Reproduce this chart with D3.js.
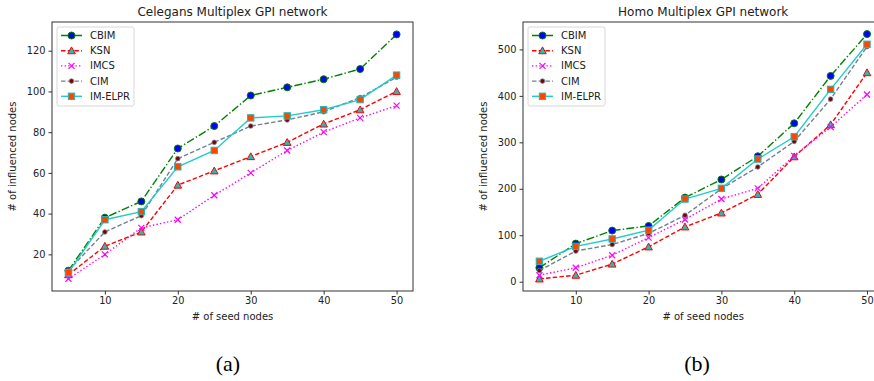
<!DOCTYPE html>
<html><head><meta charset="utf-8">
<script src="https://cdn.jsdelivr.net/npm/d3@7"></script>
<style>
html,body{margin:0;padding:0;background:#fff;}
svg{display:block;font-family:"DejaVu Sans",sans-serif;}
</style></head>
<body><svg id="c" width="874" height="381"></svg>
<script>
// ---- data ----
const seedNodes = [5, 10, 15, 20, 25, 30, 35, 40, 45, 50];
const seriesNames = ["CBIM", "KSN", "IMCS", "CIM", "IM-ELPR"];

const celegansCBIM   = [12, 38, 46, 72, 83, 98, 102, 106, 111, 128];
const celegansKSN    = [10, 24, 31, 54, 61, 68, 75, 84, 91, 100];
const celegansIMCS   = [8, 20, 33, 37, 49, 60, 71, 80, 87, 93];
const celegansCIM    = [12, 31, 39, 67, 75, 83, 86, 90, 97, 107];
const celegansIMELPR = [11, 37, 41, 63, 71, 87, 88, 91, 96, 108];

const homoCBIM   = [30, 82, 110, 120, 181, 220, 270, 341, 443, 533];
const homoKSN    = [6, 14, 38, 75, 118, 148, 188, 269, 338, 450];
const homoIMCS   = [14, 30, 57, 95, 134, 178, 201, 271, 333, 403];
const homoCIM    = [24, 66, 80, 104, 143, 200, 247, 302, 393, 506];
const homoIMELPR = [44, 76, 92, 111, 178, 201, 264, 312, 414, 511];

const celegansYTicks = [20, 40, 60, 80, 100, 120];
const homoYTicks = [0, 100, 200, 300, 400, 500];
const xTicks = [10, 20, 30, 40, 50];

// ---- styles ----
const styles = {
  "CBIM":    {stroke: "#008000", dash: "8,2.2,1.4,2.2", marker: "circle", fill: "#0000ff", edge: "#008000"},
  "KSN":     {stroke: "#ff0000", dash: "4.5,2.2", marker: "triangle", fill: "#2ab8b8", edge: "#ff0000"},
  "IMCS":    {stroke: "#ff00ff", dash: "1.4,2.2", marker: "x", fill: "none", edge: "#ff00ff"},
  "CIM":     {stroke: "#708090", dash: "4.5,2.2", marker: "dot", fill: "#800000", edge: "#708090"},
  "IM-ELPR": {stroke: "#22cccc", dash: null, marker: "square", fill: "#ff4500", edge: "#22b8b8"}
};

const svg = d3.select("#c");

function drawMarker(g, type, x, y, st) {
  if (type === "circle") {
    g.append("circle").attr("cx", x).attr("cy", y).attr("r", 3.5)
      .attr("fill", st.fill).attr("stroke", st.edge).attr("stroke-width", 1);
  } else if (type === "triangle") {
    const s = 3.8;
    g.append("path").attr("d", `M${x},${y - s}L${x + s},${y + s * 0.8}L${x - s},${y + s * 0.8}Z`)
      .attr("fill", st.fill).attr("stroke", st.edge).attr("stroke-width", 1);
  } else if (type === "x") {
    const s = 3;
    g.append("path").attr("d", `M${x - s},${y - s}L${x + s},${y + s}M${x - s},${y + s}L${x + s},${y - s}`)
      .attr("stroke", st.edge).attr("stroke-width", 1.2).attr("fill", "none");
  } else if (type === "dot") {
    g.append("circle").attr("cx", x).attr("cy", y).attr("r", 2.3)
      .attr("fill", st.fill).attr("stroke", st.edge).attr("stroke-width", 0.8);
  } else if (type === "square") {
    const s = 3.2;
    g.append("rect").attr("x", x - s).attr("y", y - s).attr("width", 2 * s).attr("height", 2 * s)
      .attr("fill", st.fill).attr("stroke", st.edge).attr("stroke-width", 1);
  }
}

function chart(opt) {
  const {left, right, top, bottom, yDomain, yTicks, title, series} = opt;
  const x = d3.scaleLinear().domain([2.75, 52.25]).range([left, right]);
  const y = d3.scaleLinear().domain(yDomain).range([bottom, top]);
  const g = svg.append("g");

  g.append("g").attr("transform", `translate(0,${bottom})`)
    .call(d3.axisBottom(x).tickValues(xTicks).tickSize(3.5).tickPadding(3))
    .call(a => a.select(".domain").remove())
    .call(a => a.selectAll("text").attr("font-size", 9.8).attr("fill", "#222").attr("font-family", "DejaVu Sans"))
    .call(a => a.selectAll("line").attr("stroke", "#333"));
  g.append("g").attr("transform", `translate(${left},0)`)
    .call(d3.axisLeft(y).tickValues(yTicks).tickSize(3.5).tickPadding(3))
    .call(a => a.select(".domain").remove())
    .call(a => a.selectAll("text").attr("font-size", 9.8).attr("fill", "#222").attr("font-family", "DejaVu Sans"))
    .call(a => a.selectAll("line").attr("stroke", "#333"));

  const line = d3.line().x((d, i) => x(seedNodes[i])).y(d => y(d));
  series.forEach((vals, si) => {
    const st = styles[seriesNames[si]];
    g.append("path").datum(vals).attr("d", line)
      .attr("fill", "none").attr("stroke", st.stroke).attr("stroke-width", 1.4)
      .attr("stroke-dasharray", st.dash);
    const mg = g.append("g");
    vals.forEach((v, i) => drawMarker(mg, st.marker, x(seedNodes[i]), y(v), st));
  });

  g.append("rect").attr("x", left).attr("y", top).attr("width", right - left).attr("height", bottom - top)
    .attr("fill", "none").attr("stroke", "#333").attr("stroke-width", 1);

  const lx = left + 5, ly = top + 5;
  const lg = g.append("g");
  lg.append("rect").attr("x", lx).attr("y", ly).attr("width", 77).attr("height", 79).attr("rx", 2)
    .attr("fill", "#fff").attr("fill-opacity", 0.85).attr("stroke", "#d8d8d8").attr("stroke-width", 1);
  seriesNames.forEach((n, i) => {
    const st = styles[n];
    const yy = ly + 8.5 + i * 15.2;
    lg.append("line").attr("x1", lx + 4).attr("x2", lx + 25).attr("y1", yy).attr("y2", yy)
      .attr("stroke", st.stroke).attr("stroke-width", 1.4).attr("stroke-dasharray", st.dash);
    drawMarker(lg, st.marker, lx + 14.5, yy, st);
    lg.append("text").attr("x", lx + 33).attr("y", yy).attr("dy", "0.35em")
      .attr("font-size", 10).attr("fill", "#222").text(n);
  });

  g.append("text").attr("x", (left + right) / 2).attr("y", top - 6).attr("text-anchor", "middle")
    .attr("font-size", 12).attr("fill", "#222").text(title);
  g.append("text").attr("x", (left + right) / 2).attr("y", 320).attr("text-anchor", "middle")
    .attr("font-size", 10).attr("fill", "#222").text("# of seed nodes");
  g.append("text").attr("transform", `translate(${left - 36},${(top + bottom) / 2}) rotate(-90)`)
    .attr("text-anchor", "middle").attr("font-size", 10).attr("fill", "#222").text("# of influenced nodes");
}

chart({left: 52, right: 413, top: 22, bottom: 291, yDomain: [2, 134.1], yTicks: celegansYTicks,
  title: "Celegans Multiplex GPI network",
  series: [celegansCBIM, celegansKSN, celegansIMCS, celegansCIM, celegansIMELPR]});
chart({left: 523, right: 883.4, top: 22, bottom: 291, yDomain: [-20, 559], yTicks: homoYTicks,
  title: "Homo Multiplex GPI network",
  series: [homoCBIM, homoKSN, homoIMCS, homoCIM, homoIMELPR]});

svg.append("text").attr("x", 228).attr("y", 371).attr("text-anchor", "middle")
  .attr("font-family", "Liberation Serif, serif").attr("font-size", 22).attr("fill", "#000").text("(a)");
svg.append("text").attr("x", 697).attr("y", 371).attr("text-anchor", "middle")
  .attr("font-family", "Liberation Serif, serif").attr("font-size", 22).attr("fill", "#000").text("(b)");
</script></body></html>
